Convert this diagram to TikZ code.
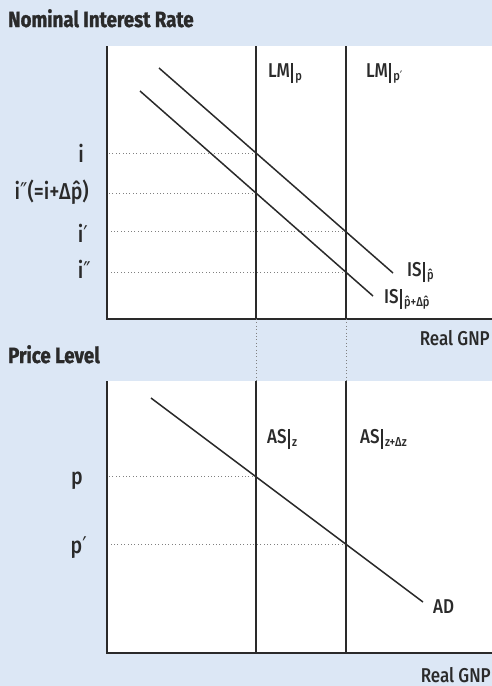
\documentclass[tikz,border=0pt]{standalone}
\usepackage{fontspec}
\setmainfont{Fira Sans}[FakeStretch=0.85]
\newfontfamily\labfont{Fira Sans Medium}[FakeStretch=0.85]
\newfontfamily\symfont{DejaVu Sans}[FakeStretch=0.85]
\definecolor{bg}{RGB}{220,231,245}
\definecolor{ink}{RGB}{42,42,42}
\newcommand\evalat[2]{#1\kern0.07em\rule[-0.3em]{0.1em}{1.02em}\kern0.1em\raisebox{-3pt}{\fontsize{13}{13}\selectfont #2}}
\newcommand\phat{\^{p}}
\newcommand\pr{{\symfont ′}}
\newcommand\dpr{{\symfont ″}}
\begin{document}
\begin{tikzpicture}[x=1pt,y=-1pt,
  axis/.style={draw=ink,line width=2.2pt,line join=miter},
  vline/.style={draw=ink,line width=1.3pt},
  curve/.style={draw=ink,line width=1.5pt},
  dotline/.style={draw=gray,line width=0.8pt,dash pattern=on 0.8pt off 2.6pt},
  lab/.style={inner sep=0pt,text=ink,font=\labfont\fontsize{20}{20}\selectfont},
  ilab/.style={inner sep=0pt,text=ink,font=\labfont\fontsize{23}{23}\selectfont,anchor=base east},
  title/.style={inner sep=0pt,text=ink,font=\bfseries\fontsize{22}{22}\selectfont\addfontfeature{FakeBold=1.2},anchor=base west}]
\useasboundingbox (0,0) rectangle (492,686);
\fill[bg] (0,0) rectangle (492,686);
\fill[white] (107,46) rectangle (492,319);
\fill[white] (107,381) rectangle (492,653);
% ---------- top panel ----------
\coordinate (Ytop1) at (107,46);
\coordinate (O1) at (107,319);
\coordinate (X1) at (492,319);
\coordinate (LMat) at (256,46); \coordinate (LMab) at (256,319);
\coordinate (LMbt) at (346,46); \coordinate (LMbb) at (346,319);
\coordinate (ISa1) at (159,68); \coordinate (ISa2) at (393,273);
\coordinate (ISb1) at (140,91); \coordinate (ISb2) at (373,296);
\coordinate (E1) at (intersection of ISa1--ISa2 and LMat--LMab);
\coordinate (E2) at (intersection of ISb1--ISb2 and LMat--LMab);
\coordinate (E3) at (intersection of ISa1--ISa2 and LMbt--LMbb);
\coordinate (E4) at (intersection of ISb1--ISb2 and LMbt--LMbb);
\draw[dotline] (E1) -- (E1 -| O1);
\draw[dotline] (E2) -- (E2 -| O1);
\draw[dotline] (E3) -- (E3 -| O1);
\draw[dotline] (E4) -- (E4 -| O1);
\draw[vline] (LMat) -- (LMab);
\draw[vline] (LMbt) -- (LMbb);
\draw[curve] (ISa1) -- (ISa2);
\draw[curve] (ISb1) -- (ISb2);
\draw[axis] (Ytop1) -- (O1) -- (X1);
\node[title] (t1) at (8,27) {Nominal Interest Rate};
\node[lab,anchor=base east] (g1) at (490,345) {Real GNP};
\node[lab,anchor=base west] (lm1) at (268,77) {\evalat{LM}{p}};
\node[lab,anchor=base west] (lm2) at (366,77) {\evalat{LM}{p\pr}};
\node[lab,anchor=base west] (is1) at (407,276) {\evalat{IS}{\phat}};
\node[lab,anchor=base west] (is2) at (384,303) {\evalat{IS}{\phat+Δ\phat}};
\node[ilab] (li) at (84,162) {i};
\node[ilab] (li2) at (89,199) {i\dpr(=i+Δ\phat)};
\node[ilab] (lip) at (88,242) {i\pr};
\node[ilab] (lipp) at (91,278) {i\dpr};
% ---------- between panels ----------
\coordinate (Ytop2) at (107,381);
\coordinate (O2) at (107,653);
\coordinate (X2) at (492,653);
\coordinate (ASat) at (256,381); \coordinate (ASab) at (256,653);
\coordinate (ASbt) at (346,381); \coordinate (ASbb) at (346,653);
\draw[dotline] (LMab) -- (ASat);
\draw[dotline] (LMbb) -- (ASbt);
% ---------- bottom panel ----------
\coordinate (AD1) at (151,398); \coordinate (AD2) at (423,602);
\coordinate (F1) at (intersection of AD1--AD2 and ASat--ASab);
\coordinate (F2) at (intersection of AD1--AD2 and ASbt--ASbb);
\draw[dotline] (F1) -- (F1 -| O2);
\draw[dotline] (F2) -- (F2 -| O2);
\draw[vline] (ASat) -- (ASab);
\draw[vline] (ASbt) -- (ASbb);
\draw[curve] (AD1) -- (AD2);
\draw[axis] (Ytop2) -- (O2) -- (X2);
\node[title] (t2) at (8,363) {Price Level};
\node[lab,anchor=base east] (g2) at (491,682) {Real GNP};
\node[lab,anchor=base west] (as1) at (267,443) {\evalat{AS}{z}};
\node[lab,anchor=base west] (as2) at (360,443) {\evalat{AS}{z+Δz}};
\node[lab,anchor=base west] (ad) at (433,613) {AD};
\node[ilab] (lp) at (83,484) {p};
\node[ilab] (lpp) at (87,553) {p\pr};
\end{tikzpicture}
\end{document}
